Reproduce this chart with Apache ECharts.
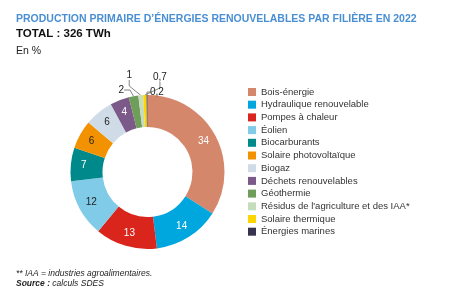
<!DOCTYPE html>
<html><head><meta charset="utf-8">
<script src="https://cdn.jsdelivr.net/npm/echarts@6/dist/echarts.min.js"></script>
<style>html,body{margin:0;padding:0;background:#fff}#c{width:475px;height:292px}</style>
</head><body><div id="c"></div>
<script>
const categories = ["Bois-énergie","Hydraulique renouvelable","Pompes à chaleur","Éolien","Biocarburants","Solaire photovoltaïque","Biogaz","Déchets renouvelables","Géothermie","Résidus de l'agriculture et des IAA*","Solaire thermique","Énergies marines"];
const values = [34,14,13,12,7,6,6,4,2,1,0.7,0.2];
const colors = ["#D4876B","#00A6DE","#DA251D","#80CBE8","#00898A","#F39200","#CFDCE8","#7B5A8A","#6E9E5A","#C6DDBD","#FFD500","#37334F"];
const labelColors = ["#fff","#fff","#fff","#222","#fff","#222","#222","#fff","#222","#222","#222","#222"];
// placement of the small outside labels (label text anchor, not marks)
const outsideLabels = {8:{x:124,y:90,align:'right'}, 9:{x:132,y:75,align:'right'}, 10:{x:153,y:77,align:'left'}, 11:{x:150,y:92,align:'left'}};

const F = "'Liberation Sans', Arial, sans-serif";
const chart = echarts.init(document.getElementById('c'), null, {renderer:'canvas'});
const data = categories.map((n,i)=>{
  const d = {name:n, value:values[i], itemStyle:{color:colors[i]},
    label:{color:labelColors[i]}};
  if (outsideLabels[i]) {
    d.label = {position:'outside', color:'#222', fontSize:10};
    d.labelLine = {show:true, length:6, length2:6, lineStyle:{color:'#666', width:0.8}};
  }
  return d;
});
chart.setOption({
  animation:false,
  title:[
    {text:"PRODUCTION PRIMAIRE D’ÉNERGIES RENOUVELABLES PAR FILIÈRE EN 2022", left:16, top:14, padding:0,
     textStyle:{fontFamily:F, fontSize:10.5, fontWeight:'bold', color:'#4A8FD4'}},
    {text:"TOTAL : 326 TWh", left:16, top:28, padding:0, textStyle:{fontFamily:F, fontSize:11.5, fontWeight:'bold', color:'#111'}},
    {text:"En %", left:16, top:46, padding:0, textStyle:{fontFamily:F, fontSize:10.5, fontWeight:'normal', color:'#222'}},
    {text:"** IAA = industries agroalimentaires.", left:16, top:269, padding:0, textStyle:{fontFamily:F, fontSize:8.5, fontStyle:'italic', fontWeight:'normal', color:'#222'}},
    {text:"{b|Source :} calculs SDES", left:16, top:279, padding:0, textStyle:{fontFamily:F, fontSize:8.5, fontStyle:'italic', fontWeight:'normal', color:'#222', rich:{b:{fontFamily:F, fontSize:8.5, fontStyle:'italic', fontWeight:'bold', color:'#222'}}}}
  ],
  legend:{orient:'vertical', left:243, top:82, itemWidth:8, itemHeight:8, itemGap:2.7, icon:'rect',
    textStyle:{fontFamily:F, fontSize:9.5, color:'#333'}, data:categories, selectedMode:false},
  series:[{type:'pie', center:[147.5,172], radius:[45,77], startAngle:90, clockwise:true,
    avoidLabelOverlap:false, minShowLabelAngle:0,
    label:{show:true, position:'inside', formatter:(p)=>String(p.value).replace('.',','), fontFamily:F, fontSize:10},
    labelLine:{show:false},
    labelLayout:(p)=>{
      const o = outsideLabels[p.dataIndex];
      if (!o) return {};
      return {x:o.x, y:o.y, align:o.align, verticalAlign:'middle'};
    },
    data:data}]
});
</script></body></html>
